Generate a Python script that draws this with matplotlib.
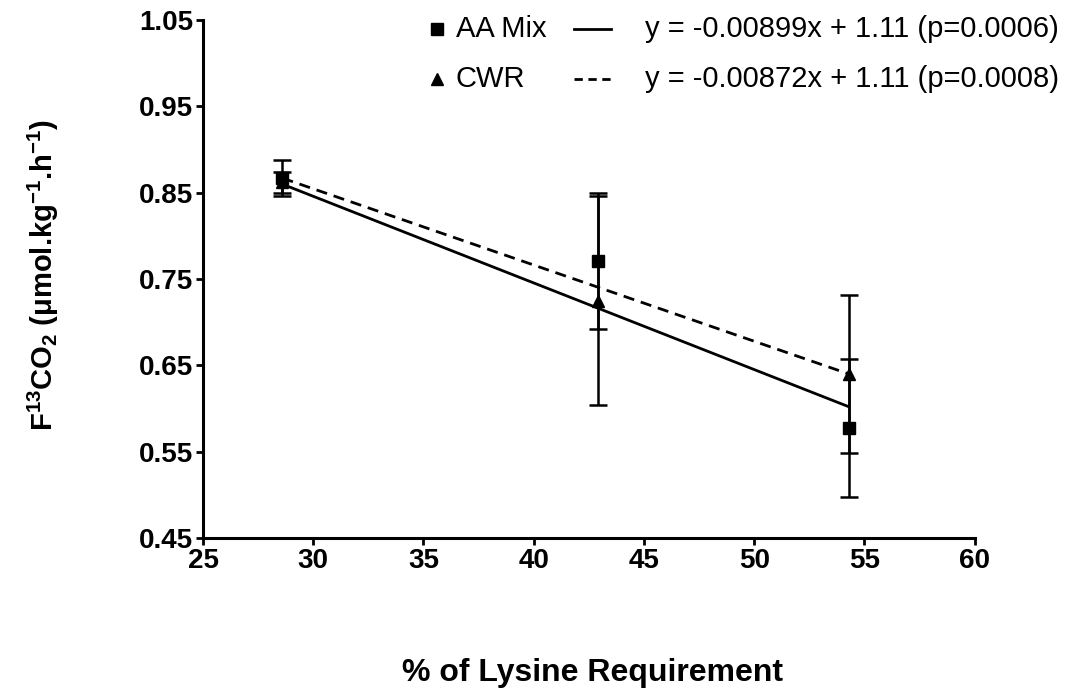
import matplotlib.pyplot as plt
from matplotlib.lines import Line2D

plt.rcParams['font.family'] = ['Liberation Sans', 'DejaVu Sans']

# Lysine intake (% of requirement)
lysine = [28.6, 42.9, 54.3]

# AA Mix (squares)
aa_mean = [0.867, 0.771, 0.577]
aa_sd = [0.021, 0.079, 0.080]

# CWR (triangles)
cwr_mean = [0.862, 0.725, 0.640]
cwr_sd = [0.012, 0.121, 0.092]

# regression line end points
fit_x = [28.6, 54.3]
aa_fit = [0.860, 0.602]
cwr_fit = [0.867, 0.640]

aa_eq = "y = -0.00899x + 1.11 (p=0.0006)"
cwr_eq = "y = -0.00872x + 1.11 (p=0.0008)"

fig = plt.figure(figsize=(10.77, 6.96), dpi=100)
ax = fig.add_axes([0.1885, 0.227, 0.7165, 0.744])

ax.plot(fit_x, aa_fit, color='black', lw=2.0, solid_capstyle='butt')
ax.plot(fit_x, cwr_fit, color='black', lw=2.0, ls=(0, (4, 2.5)))

ax.errorbar(lysine, cwr_mean, yerr=cwr_sd, fmt='^', color='black', ms=9,
            capsize=6.5, elinewidth=1.8, capthick=1.8)
ax.errorbar(lysine, aa_mean, yerr=aa_sd, fmt='s', color='black', ms=9,
            capsize=6.5, elinewidth=1.8, capthick=1.8)

ax.set_xlim(25, 60)
ax.set_ylim(0.45, 1.05)
ax.set_xticks(range(25, 61, 5))
ax.set_yticks([0.45, 0.55, 0.65, 0.75, 0.85, 0.95, 1.05])
ax.set_yticklabels(['0.45', '0.55', '0.65', '0.75', '0.85', '0.95', '1.05'])

for side in ['top', 'right']:
    ax.spines[side].set_visible(False)
for side in ['left', 'bottom']:
    ax.spines[side].set_linewidth(2.2)
ax.tick_params(width=2.0, length=5, labelsize=20, pad=2)
for lab in ax.get_xticklabels() + ax.get_yticklabels():
    lab.set_fontweight('bold')

ylab = (r'F$^{\mathregular{13}}$CO$_{\mathregular{2}}$ ($\mathregular{\mu}$mol.kg'
        r'$^{\mathregular{-1}}$.h$^{\mathregular{-1}}$)')
fig.text(0.040, 0.605, ylab, rotation=90, ha='center', va='center',
         fontsize=21, fontweight='bold')
fig.text(0.55, 0.022, '% of Lysine Requirement', ha='center', va='baseline',
         fontsize=23, fontweight='bold')

# legend drawn by hand, as in the original
for ypos, mk, name, ls, eq in [(0.958, 's', 'AA Mix', '-', aa_eq),
                               (0.887, '^', 'CWR', (0, (3, 2)), cwr_eq)]:
    fig.add_artist(Line2D([0.406], [ypos], marker=mk, color='black', ms=8,
                          transform=fig.transFigure))
    fig.text(0.423, ypos, name, va='center', fontsize=21)
    fig.add_artist(Line2D([0.533, 0.567], [ypos, ypos], color='black', lw=2.0,
                          ls=ls, transform=fig.transFigure))
    fig.text(0.599, ypos, eq, va='center', fontsize=21)

fig.savefig('out.png', dpi=100)
